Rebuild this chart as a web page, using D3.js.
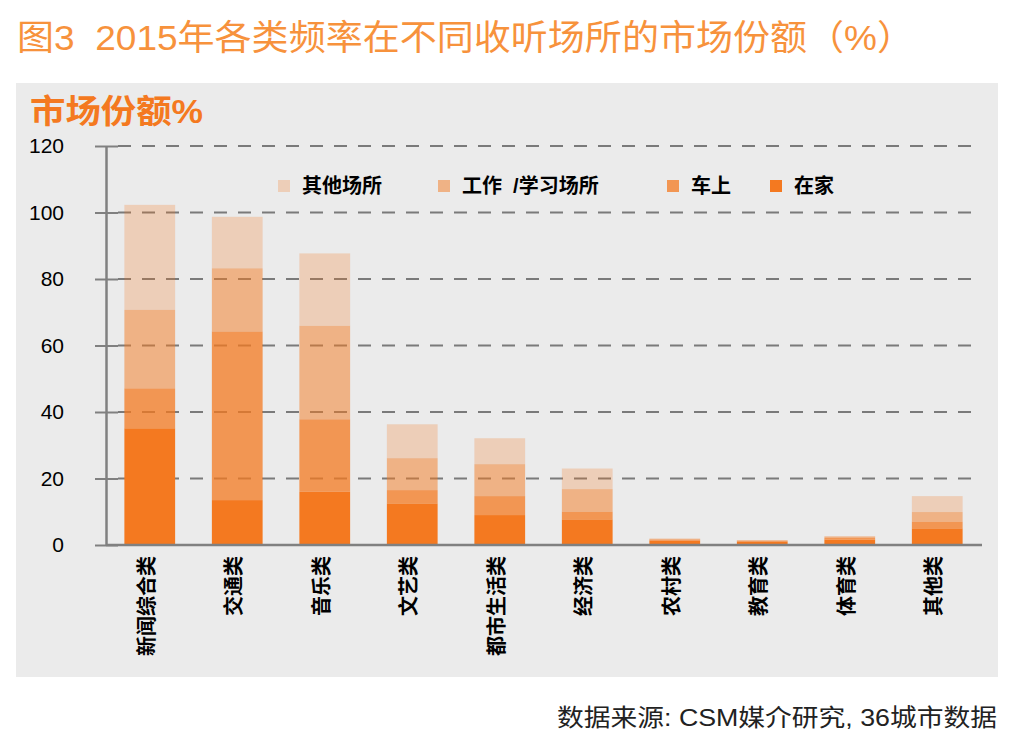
<!DOCTYPE html>
<html>
<head>
<meta charset="utf-8">
<script src="https://cdn.jsdelivr.net/npm/d3@7"></script>
<style>
  body { margin: 0; background: #fff; }
  svg { display: block; }
  text { font-family: "Liberation Sans", "Noto Sans CJK SC", sans-serif; white-space: pre; }
</style>
</head>
<body>
<div id="chart"></div>
<script>
// categories and stacked values (market share %)
const categories = ["新闻综合类", "交通类", "音乐类", "文艺类", "都市生活类", "经济类", "农村类", "教育类", "体育类", "其他类"];
const atHome  = [35.1, 13.5, 16.0, 12.5, 9.0, 7.7, 1.3, 1.0, 1.6, 5.0];
const inCar   = [12.0, 50.7, 21.8, 4.0, 5.7, 2.3, 0.3, 0.2, 0.5, 2.0];
const atWork  = [23.6, 19.0, 28.1, 9.6, 9.6, 6.8, 0.2, 0.2, 0.4, 2.9];
const otherPl = [31.6, 15.5, 21.8, 10.2, 7.8, 6.2, 0.2, 0.1, 0.2, 4.8];

const seriesKeys = ["home", "car", "work", "other"];
const seriesNames = ["在家", "车上", "工作  /学习场所", "其他场所"];
const yTicks = [0, 20, 40, 60, 80, 100, 120];

class StackedBar {
  constructor(_config, _data) {
    this.config = {
      parentElement: _config.parentElement,
      width: 1016,
      height: 740,
    };
    this.data = _data;
    this.initVis();
  }

  initVis() {
    let vis = this;

    vis.svg = d3.select(vis.config.parentElement)
      .append("svg")
      .attr("width", vis.config.width)
      .attr("height", vis.config.height);

    // grey panel
    vis.svg.append("rect")
      .attr("x", 16).attr("y", 83)
      .attr("width", 982).attr("height", 594)
      .attr("fill", "#ebebeb");

    vis.svg.append("text")
      .attr("x", 17).attr("y", 50)
      .attr("font-size", 35)
      .attr("fill", "#f7923c")
      .attr("textLength", 897)
      .attr("lengthAdjust", "spacingAndGlyphs")
      .text("图3  2015年各类频率在不同收听场所的市场份额（%）");

    vis.svg.append("text")
      .attr("x", 30).attr("y", 123)
      .attr("font-size", 33)
      .attr("font-weight", "bold")
      .attr("fill", "#f47920")
      .attr("textLength", 173)
      .attr("lengthAdjust", "spacingAndGlyphs")
      .text("市场份额%");

    vis.svg.append("text")
      .attr("x", 557).attr("y", 726)
      .attr("font-size", 24)
      .attr("fill", "#222")
      .attr("textLength", 440)
      .attr("lengthAdjust", "spacingAndGlyphs")
      .text("数据来源: CSM媒介研究, 36城市数据");

    vis.x = d3.scaleBand()
      .domain(categories)
      .range([106, 981])
      .paddingInner(0.42)
      .paddingOuter(0.21);

    vis.y = d3.scaleLinear()
      .domain([0, 120])
      .range([545, 146]);

    vis.color = "#f47920";
    vis.opacity = d3.scaleOrdinal().domain(seriesKeys).range([1, 0.75, 0.5, 0.25]);

    // dashed grid
    vis.svg.append("g")
      .selectAll("line")
      .data(yTicks.filter(d => d > 0))
      .join("line")
      .attr("x1", 118).attr("x2", 982)
      .attr("y1", d => vis.y(d)).attr("y2", d => vis.y(d))
      .attr("stroke", "#7a7a7a")
      .attr("stroke-width", 2)
      .attr("stroke-dasharray", "13,11");

    // stacked bars
    vis.stack = d3.stack().keys(seriesKeys);
    vis.series = vis.stack(vis.data);

    vis.svg.append("g")
      .selectAll("g")
      .data(vis.series)
      .join("g")
      .attr("fill", vis.color)
      .attr("fill-opacity", d => vis.opacity(d.key))
      .selectAll("rect")
      .data(d => d)
      .join("rect")
      .attr("x", d => vis.x(d.data.cat))
      .attr("width", vis.x.bandwidth())
      .attr("y", d => vis.y(d[1]))
      .attr("height", d => vis.y(d[0]) - vis.y(d[1]));

    // y axis
    vis.yAxis = d3.axisLeft(vis.y)
      .tickValues(yTicks)
      .tickSizeInner(11)
      .tickSizeOuter(0)
      .tickPadding(31);

    vis.yAxisG = vis.svg.append("g")
      .attr("transform", "translate(106,0)")
      .call(vis.yAxis);
    vis.yAxisG.select(".domain").attr("stroke", "#808080").attr("stroke-width", 2.5);
    vis.yAxisG.selectAll(".tick line")
      .attr("x1", 12)
      .attr("stroke", "#808080").attr("stroke-width", 2);
    vis.yAxisG.selectAll(".tick text")
      .attr("font-size", 21)
      .attr("fill", "#000")
      .attr("font-family", "Liberation Sans, sans-serif");

    // x axis
    vis.xAxis = d3.axisBottom(vis.x).tickSize(0).tickPadding(0);
    vis.xAxisG = vis.svg.append("g")
      .attr("transform", "translate(0,545)")
      .call(vis.xAxis);
    vis.xAxisG.select(".domain")
      .attr("d", "M106,0H982")
      .attr("stroke", "#808080").attr("stroke-width", 2.5);
    vis.xAxisG.selectAll(".tick text")
      .attr("transform", "translate(-3,11) rotate(-90)")
      .attr("text-anchor", "end")
      .attr("dy", "0.35em")
      .attr("y", 0)
      .attr("font-size", 20)
      .attr("font-weight", "bold")
      .attr("fill", "#000")
      .attr("font-family", "Noto Sans CJK SC, sans-serif");

    // legend
    const legendX = [278, 438, 667, 770];
    const legendOrder = ["other", "work", "car", "home"];
    vis.legend = vis.svg.append("g")
      .selectAll("g")
      .data(legendOrder)
      .join("g")
      .attr("transform", (d, i) => `translate(${legendX[i]},186)`);
    vis.legend.append("rect")
      .attr("x", 0).attr("y", -6)
      .attr("width", 12).attr("height", 12)
      .attr("fill", vis.color)
      .attr("fill-opacity", d => vis.opacity(d));
    vis.legend.append("text")
      .attr("x", 24)
      .attr("dy", "0.36em")
      .attr("font-size", 20)
      .attr("font-weight", "bold")
      .attr("fill", "#000")
      .attr("font-family", "Noto Sans CJK SC, sans-serif")
      .text(d => seriesNames[seriesKeys.indexOf(d)]);
  }
}

const tableData = categories.map((cat, i) => ({
  cat: cat,
  home: atHome[i],
  car: inCar[i],
  work: atWork[i],
  other: otherPl[i],
}));

new StackedBar({ parentElement: "#chart" }, tableData);
</script>
</body>
</html>
